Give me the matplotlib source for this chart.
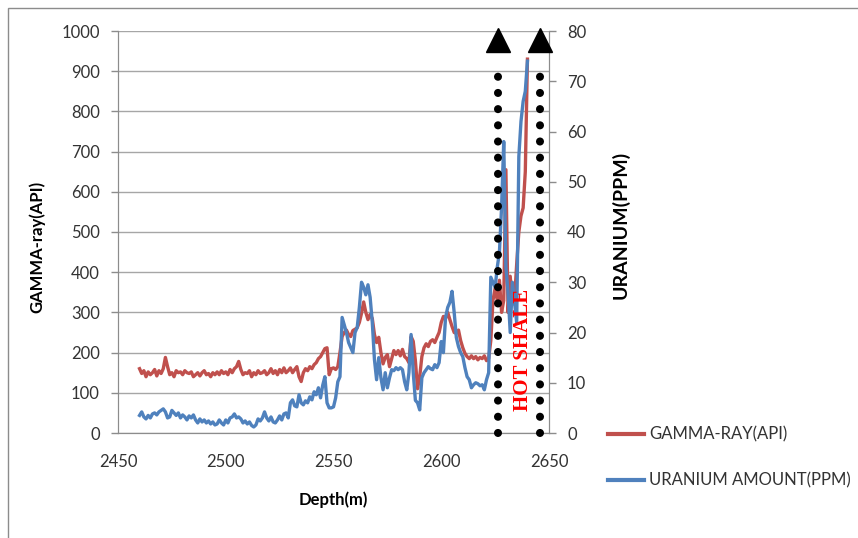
import numpy as np
import matplotlib
matplotlib.use("Agg")
import matplotlib.pyplot as plt
from matplotlib.lines import Line2D
from matplotlib.patches import Rectangle

# depth grid, 1 m sampling
depth = np.arange(2460, 2641)

gamma_api = [
    160, 148, 155, 140, 152, 145, 150, 158, 142, 155,
    148, 160, 188, 165, 145, 150, 140, 155, 150, 152,
    145, 155, 150, 148, 152, 140, 145, 150, 142, 150,
    155, 145, 148, 140, 150, 145, 152, 145, 155, 148,
    152, 145, 158, 150, 160, 165, 178, 158, 145, 150,
    148, 155, 140, 150, 145, 155, 148, 150, 155, 145,
    150, 160, 148, 155, 145, 158, 150, 162, 150, 155,
    162, 150, 158, 165, 140, 128, 150, 160, 155, 165,
    160, 170, 175, 185, 190, 200, 210, 212, 145, 160,
    162, 158, 165, 200, 240, 250, 256, 245, 240, 255,
    258, 262, 275, 298, 326, 300, 282, 295, 285, 245,
    225, 238, 200, 172, 188, 195, 165, 185, 205, 195,
    205, 192, 208, 190, 185, 175, 240, 228, 180, 110,
    140, 190, 212, 222, 215, 228, 232, 225, 238, 250,
    275, 290, 285, 300, 282, 265, 250, 248, 256, 230,
    212, 198, 190, 185, 192, 185, 190, 182, 188, 185,
    192, 180, 185, 230, 330, 360, 330, 380, 300, 330,
    655, 300, 390, 320, 330, 420, 500, 540, 560, 650,
    930,
]

uranium_ppm = [
    3.5, 4.2, 3.2, 2.8, 3.5, 3.0, 3.8, 4.0, 3.6, 4.2,
    4.5, 4.8, 4.2, 3.0, 3.2, 4.5, 4.0, 3.5, 4.0, 3.0,
    3.6, 3.2, 2.6, 3.4, 3.0, 3.6, 2.6, 2.0, 2.8, 2.2,
    2.6, 2.0, 2.4, 1.8, 2.2, 1.6, 1.8, 2.6, 2.0, 1.6,
    2.6, 2.0, 3.0, 3.2, 3.8, 3.0, 3.2, 2.8, 2.0, 2.4,
    1.8, 2.2, 1.5, 1.2, 1.6, 2.8, 2.4, 3.0, 4.2, 3.0,
    2.4, 3.2, 2.2, 2.0, 2.6, 3.4, 2.6, 3.8, 4.0, 3.0,
    6.0, 6.6, 5.4, 5.2, 7.6, 6.0, 5.6, 6.4, 6.0, 7.2,
    6.6, 8.2, 7.6, 9.0, 7.0, 9.5, 11.2, 6.0, 5.0, 5.0,
    5.2, 7.0, 10.2, 11.2, 23.0, 21.5, 20.0, 18.0, 17.0, 16.0,
    20.0, 21.0, 25.0, 30.0, 29.0, 27.5, 29.5, 27.0, 22.0, 14.6,
    10.6, 15.0, 11.0, 8.6, 12.0, 9.0, 11.0, 12.6, 12.4, 13.0,
    12.6, 13.0, 12.6, 10.2, 8.6, 12.0, 19.6, 12.0, 6.5, 6.0,
    4.6, 11.0, 12.0, 12.6, 13.2, 12.8, 12.6, 13.6, 13.0, 14.0,
    18.2, 16.0, 23.0, 25.0, 26.0, 28.2, 24.0, 19.0, 17.2, 16.0,
    15.2, 13.0, 11.2, 10.6, 9.0, 9.6, 10.0, 9.8, 9.4, 9.6,
    8.6, 10.6, 12.0, 31.0, 30.0, 29.0, 33.0, 36.0, 45.0, 58.0,
    33.0, 28.0, 20.0, 30.0, 26.0, 22.0, 55.0, 62.0, 66.0, 68.0,
    74.0,
]

hot_shale_top = 2626.3
hot_shale_base = 2645.8
hot_shale_label_x = 2637.8

red = "#C0504D"
blue = "#4F81BD"
grid_grey = "#A6A6A6"
font = ["Lato", "DejaVu Sans"]

plt.rcParams["font.family"] = font

fig = plt.figure(figsize=(8.58, 5.38), dpi=100)
ax = fig.add_axes([118 / 858, 1 - 433 / 538, 431 / 858, 402 / 538])
ax2 = ax.twinx()

# outer frame of the chart area
fig.patches.append(Rectangle((8 / 858, -0.1), 1.2, 1 - 8 / 538 + 0.1,
                             transform=fig.transFigure, fill=False,
                             edgecolor="#8C8C8C", lw=1.0))

ax.plot(depth, gamma_api, color=red, lw=2.4, solid_joinstyle="round")
ax2.plot(depth, uranium_ppm, color=blue, lw=2.4, solid_joinstyle="round")

ax.set_xlim(2450, 2650)
ax.set_ylim(0, 1000)
ax2.set_ylim(0, 80)
ax.set_xticks(np.arange(2450, 2651, 50))
ax.set_yticks(np.arange(0, 1001, 100))
ax2.set_yticks(np.arange(0, 81, 10))

ax.yaxis.grid(True, color=grid_grey, lw=1.0)
ax.set_axisbelow(True)

for a in (ax, ax2):
    a.spines["top"].set_visible(False)
    for s in ("left", "right", "bottom"):
        a.spines[s].set_color("#8C8C8C")
    a.tick_params(colors="#8C8C8C", labelcolor="#333333", labelsize=12,
                  length=5, width=1)
ax.tick_params(axis="x", length=0, pad=15)
ax2.tick_params(axis="y", pad=8)
ax.tick_params(axis="y", pad=8)

ax.set_xlabel("Depth(m)", fontsize=12, fontweight="bold")
ax.xaxis.set_label_coords(0.5, -(491 - 433) / 402)
ax.set_ylabel("GAMMA-ray(API)", fontsize=12, fontweight="bold")
ax.yaxis.set_label_coords(-(118 - 45) / 431, (433 - 247) / 402)
ax2.set_ylabel("URANIUM(PPM)", fontsize=14, fontweight="bold", rotation=90)
ax2.yaxis.set_label_coords((612 - 118) / 431, (433 - 225) / 402)

# hot shale markers: dotted verticals capped by triangles
for d in (hot_shale_top, hot_shale_base):
    ax2.plot([d, d], [0, 74], color="black", lw=5.8,
             linestyle=(0, (0.01, 2.0)), dash_capstyle="round",
             solid_capstyle="round", clip_on=False, zorder=5)
    ax2.plot([d], [78.3], marker="^", color="black", markersize=17,
             clip_on=False, zorder=6)

ax2.text(hot_shale_label_x, 16.5, "HOT SHALE",
         color="red", rotation=90, ha="center", va="center",
         fontsize=15, fontweight="bold", family="Liberation Serif", zorder=7)

handles = [Line2D([], [], color=red, lw=3),
           Line2D([], [], color=blue, lw=3)]
fig.legend(handles, ["GAMMA-RAY(API)", "URANIUM AMOUNT(PPM)"],
           loc="upper left", bbox_to_anchor=(601 / 858, 1 - 420 / 538),
           frameon=False, fontsize=12, handlelength=2.2, labelspacing=1.78,
           handletextpad=0.3, borderaxespad=0, labelcolor="#333333")

fig.savefig("out.png", dpi=100)
